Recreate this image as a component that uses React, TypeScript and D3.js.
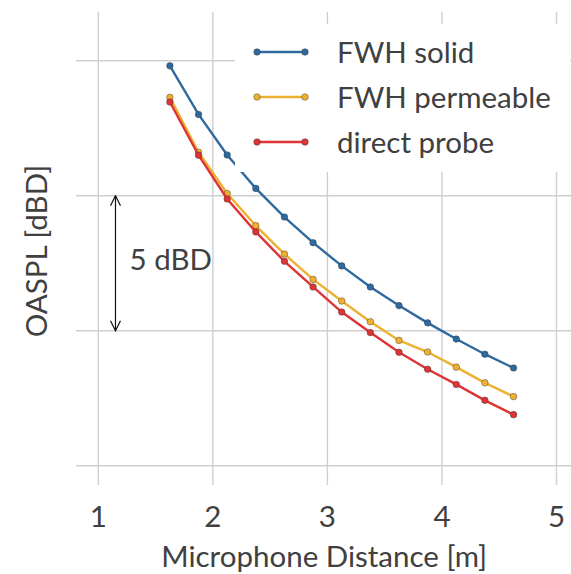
import React from "react";
import * as d3 from "d3";

// Microphone distances [m]
const distances = [1.625, 1.875, 2.125, 2.375, 2.625, 2.875, 3.125, 3.375, 3.625, 3.875, 4.125, 4.375, 4.625];

// OASPL [dBD] per method
const fwhSolid = [84.81, 83.01, 81.51, 80.27, 79.21, 78.26, 77.4, 76.62, 75.93, 75.29, 74.69, 74.13, 73.62];
const fwhPermeable = [83.64, 81.61, 80.08, 78.89, 77.84, 76.9, 76.1, 75.33, 74.64, 74.21, 73.65, 73.07, 72.56];
const directProbe = [83.47, 81.5, 79.88, 78.66, 77.57, 76.62, 75.69, 74.93, 74.2, 73.57, 73.01, 72.42, 71.89];

const seriesNames = ["FWH solid", "FWH permeable", "direct probe"];
const seriesColors = ["#2f6a9f", "#eeb030", "#de3436"];
const seriesValues = [fwhSolid, fwhPermeable, directProbe];

const xTicks = [1, 2, 3, 4, 5];
const yTicks = [70, 75, 80, 85];

// Scale-bar annotation (5 dB span)
const barX = 1.15;
const barFrom = 75;
const barTo = 80;
const barLabel = "5 dBD";

const W = 571;
const H = 574;
const FONT = "Lato, 'Open Sans', sans-serif";
const FS = 29.5;
const TEXT = "#404040";

export default function App() {
  const x = d3.scaleLinear().domain([1, 5]).range([98.3, 556.5]);
  const y = d3.scaleLinear().domain([70, 85]).range([465.7, 60.7]);

  const plotLeft = 76;
  const plotTop = 12;
  const plotBottom = 485;

  const line = d3
    .line<[number, number]>()
    .x((d) => x(d[0]))
    .y((d) => y(d[1]));

  const legend = { x: 235, y: 24, w: 335, h: 148 };

  return (
    <div style={{ position: "absolute", left: 0, top: 0 }}>
      <svg width={W} height={H} style={{ display: "block" }} fontFamily={FONT}>
        <rect width={W} height={H} fill="#fff" />
        <defs>
          <marker id="arrowEnd" viewBox="0 0 12 12" refX="11" refY="6" markerWidth="12" markerHeight="12" markerUnits="userSpaceOnUse" orient="auto">
            <path d="M1,1 L11,6 L1,11" fill="none" stroke="#111" strokeWidth={1.2} />
          </marker>
          <marker id="arrowStart" viewBox="0 0 12 12" refX="1" refY="6" markerWidth="12" markerHeight="12" markerUnits="userSpaceOnUse" orient="auto">
            <path d="M11,1 L1,6 L11,11" fill="none" stroke="#111" strokeWidth={1.2} />
          </marker>
        </defs>

        {/* grid */}
        {xTicks.map((t) => (
          <line key={"gx" + t} x1={x(t)} x2={x(t)} y1={plotTop} y2={plotBottom} stroke="#cfcfcf" strokeWidth={1.4} />
        ))}
        {yTicks.map((t) => (
          <line key={"gy" + t} x1={plotLeft} x2={W} y1={y(t)} y2={y(t)} stroke="#cfcfcf" strokeWidth={1.4} />
        ))}

        {/* series */}
        {seriesValues.map((vals, i) => {
          const pts = distances.map((d, k) => [d, vals[k]] as [number, number]);
          return (
            <g key={seriesNames[i]}>
              <path d={line(pts) || ""} fill="none" stroke={seriesColors[i]} strokeWidth={2.4} />
              {pts.map((p, k) => (
                <circle key={k} cx={x(p[0])} cy={y(p[1])} r={3.3} fill={seriesColors[i]} stroke="#333" strokeWidth={0.6} strokeOpacity={0.7} />
              ))}
            </g>
          );
        })}

        {/* scale bar */}
        <line x1={x(barX)} x2={x(barX)} y1={y(barTo)} y2={y(barFrom)} stroke="#111" strokeWidth={1.2} markerStart="url(#arrowStart)" markerEnd="url(#arrowEnd)" />
        <text x={x(barX) + 14} y={270} fontSize={FS} fill={TEXT}>
          {barLabel}
        </text>

        {/* legend */}
        <rect x={legend.x} y={legend.y} width={legend.w} height={legend.h} rx={4} fill="#fff" />
        {seriesNames.map((name, i) => {
          const ly = 52 + i * 45;
          return (
            <g key={"lg" + name}>
              <line x1={257} x2={305} y1={ly} y2={ly} stroke={seriesColors[i]} strokeWidth={2.4} />
              <circle cx={257} cy={ly} r={3.3} fill={seriesColors[i]} stroke="#333" strokeWidth={0.6} strokeOpacity={0.7} />
              <circle cx={305} cy={ly} r={3.3} fill={seriesColors[i]} stroke="#333" strokeWidth={0.6} strokeOpacity={0.7} />
              <text x={337} y={ly + 11} fontSize={FS} fill={TEXT}>
                {name}
              </text>
            </g>
          );
        })}

        {/* x tick labels */}
        {xTicks.map((t) => (
          <text key={"tx" + t} x={x(t)} y={527} fontSize={FS} fill={TEXT} textAnchor="middle">
            {t}
          </text>
        ))}

        {/* axis titles */}
        <text x={(161.7 + 486.7) / 2} y={567} fontSize={FS} fill={TEXT} textAnchor="middle">
          Microphone Distance [m]
        </text>
        <text transform={`translate(47, 251) rotate(-90)`} fontSize={FS} fill={TEXT} textAnchor="middle">
          OASPL [dBD]
        </text>
      </svg>
    </div>
  );
}
